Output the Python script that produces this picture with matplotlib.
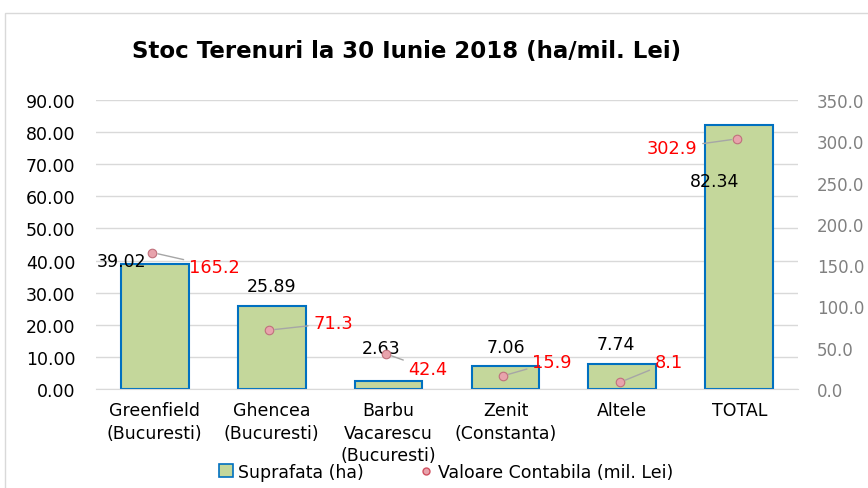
import matplotlib.pyplot as plt
from matplotlib.patches import Rectangle
from matplotlib.lines import Line2D
import numpy as np

categories = ["Greenfield\n(Bucuresti)", "Ghencea\n(Bucuresti)", "Barbu\nVacarescu\n(Bucuresti)",
              "Zenit\n(Constanta)", "Altele", "TOTAL"]
suprafata = [39.02, 25.89, 2.63, 7.06, 7.74, 82.34]
valoare = [165.2, 71.3, 42.4, 15.9, 8.1, 302.9]
left_ticks = np.arange(0, 91, 10)
right_ticks = np.arange(0, 351, 50)

# label offsets in pixels (style only)
bar_lbl_off = [(-33, 3), (0, 20), (-8, 33), (0, 19), (-7, 20), (-25, -56)]
val_lbl_off = [(62, -14), (64, 7), (42, -15), (49, 14), (49, 20), (-65, -9)]

bar_face = "#C4D79B"
bar_edge = "#0070C0"
marker_face = "#E8A3AC"
marker_edge = "#C0707C"

plt.rcParams['font.family'] = ['DejaVu Sans']

fig = plt.figure(figsize=(8.68, 4.89), dpi=100)
fig.patches.append(Rectangle((5 / 868, -0.1), 1.0, 1.1 - 14 / 489, transform=fig.transFigure,
                             fill=False, edgecolor="#D9D9D9", linewidth=1.0))

ax = fig.add_axes([0.111, 0.2025, 0.808, 0.591])
x = np.arange(len(categories))
ax.bar(x, suprafata, width=0.58, color=bar_face, edgecolor=bar_edge, linewidth=1.5, zorder=2)
ax.set_ylim(0, 90)
ax.set_xlim(-0.5, len(categories) - 0.5)
ax.set_yticks(left_ticks)
ax.set_yticklabels([f"{t:.2f}" for t in left_ticks], fontsize=12.5)
ax.grid(axis="y", color="#D9D9D9", linewidth=1.0, zorder=0)
ax.set_axisbelow(True)
ax.tick_params(axis="y", length=0, pad=15)
ax.tick_params(axis="x", length=0, pad=9)
ax.set_xticks(x)
ax.set_xticklabels(categories, fontsize=12.5, linespacing=1.32, va="top")
for s in ["top", "left", "right"]:
    ax.spines[s].set_visible(False)
ax.spines["bottom"].set_color("#D9D9D9")

for xi, v, off in zip(x, suprafata, bar_lbl_off):
    ax.annotate(f"{v:.2f}", (xi, v), xytext=off, textcoords="offset pixels",
                ha="center", va="center", fontsize=12.5, color="black", zorder=5)

ax2 = ax.twinx()
ax2.set_ylim(0, 350)
ax2.set_yticks(right_ticks)
ax2.set_yticklabels([f"{t:.1f}" for t in right_ticks], fontsize=12, color="#808080")
ax2.tick_params(axis="y", length=0, pad=14)
for s in ["top", "left", "right", "bottom"]:
    ax2.spines[s].set_visible(False)
ax2.scatter(x - 0.02, valoare, s=38, color=marker_face, edgecolor=marker_edge, linewidth=0.8, zorder=4)
for xi, v, off in zip(x, valoare, val_lbl_off):
    ax2.annotate(f"{v:.1f}", (xi - 0.02, v), xytext=off, textcoords="offset pixels",
                 ha="center", va="center", fontsize=12.8, color="#FF0000", zorder=5,
                 arrowprops=dict(arrowstyle="-", color="#A6A6A6", lw=1.0, shrinkA=2, shrinkB=4))

fig.text(0.468, 0.894, "Stoc Terenuri la 30 Iunie 2018 (ha/mil. Lei)", ha="center", va="center",
         fontsize=16.5, fontweight="bold")

handles = [Rectangle((0, 0), 1, 1, facecolor=bar_face, edgecolor=bar_edge, linewidth=1.2),
           Line2D([], [], linestyle="none", marker="o", markersize=5, markerfacecolor=marker_face,
                  markeredgecolor="#D05060")]
fig.legend(handles, ["Suprafata (ha)", "Valoare Contabila (mil. Lei)"], loc="center",
           bbox_to_anchor=(0.514, 0.033), ncol=2, frameon=False, fontsize=12.5,
           handlelength=0.8, handleheight=0.8, handletextpad=0.3, columnspacing=3.2)

fig.savefig("out.png", dpi=100)
